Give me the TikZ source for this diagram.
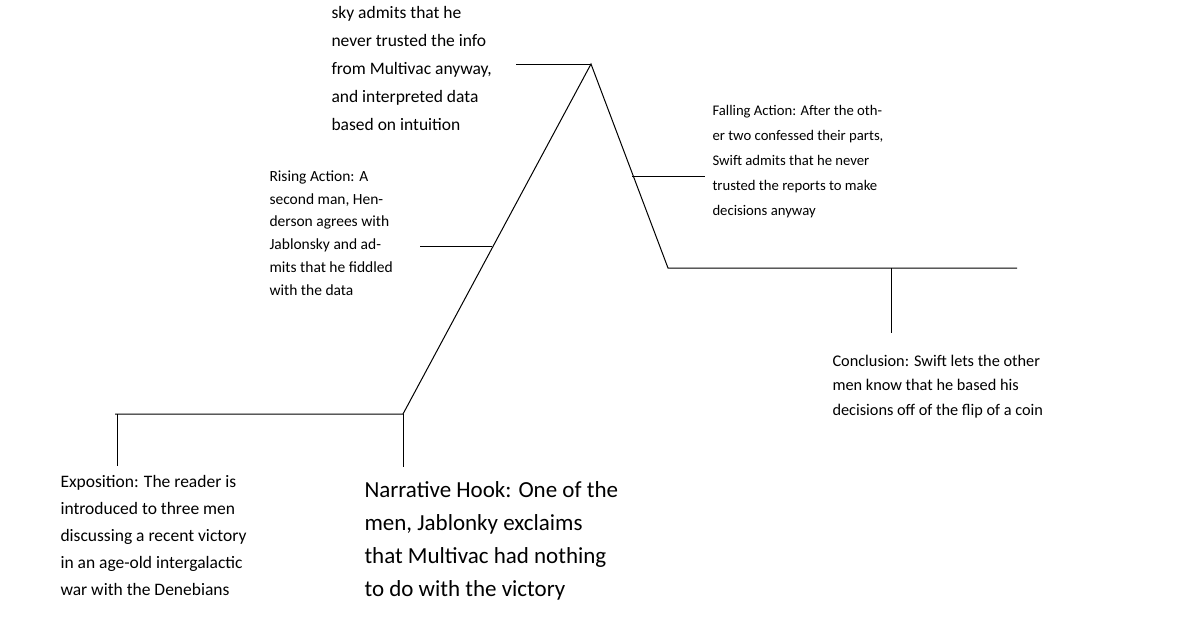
\documentclass[tikz,border=0pt]{standalone}
\usepackage{fontspec}
\setmainfont{Carlito}
\begin{document}
\begin{tikzpicture}[x=1pt,y=-1pt,line width=1pt,
  txt/.style={anchor=base west,inner sep=0pt,align=left}]
\useasboundingbox (0,0) rectangle (1200,630);
\coordinate (b0) at (115,414);
\coordinate (b1) at (403,414);
\coordinate (pk) at (591,64);
\coordinate (f1) at (668,268);
\coordinate (f2) at (1017,268);
\draw (b0) -- (b1) -- (pk) -- (f1) -- (f2);
\coordinate (e1) at (117,414); \coordinate (e2) at (117,466);
\draw (e1) -- (e2);
\coordinate (h2) at (403,467);
\draw (b1) -- (h2);
\coordinate (r1) at (420,246); \coordinate (r2) at (492,246);
\draw (r1) -- (r2);
\coordinate (c1) at (516,64);
\draw (c1) -- (pk);
\coordinate (fa1) at (632,176); \coordinate (fa2) at (705,176);
\draw (fa1) -- (fa2);
\coordinate (k1) at (891,268); \coordinate (k2) at (891,333);
\draw (k1) -- (k2);
\node[txt,font=\fontsize{17.5}{28}\selectfont] (climax) at (331,130) {sky admits that he\\never trusted the info\\from Multivac anyway,\\and interpreted data\\based on intuition};
\node[txt,font=\fontsize{15.5}{22.7}\selectfont] (rising) at (269,295) {Rising Action: A\\second man, Hen-\\derson agrees with\\Jablonsky and ad-\\mits that he fiddled\\with the data};
\node[txt,font=\fontsize{14.7}{25}\selectfont] (falling) at (712,215) {Falling Action: After the oth-\\er two confessed their parts,\\Swift admits that he never\\trusted the reports to make\\decisions anyway};
\node[txt,font=\fontsize{16.3}{24.5}\selectfont] (concl) at (832,415) {Conclusion: Swift lets the other\\men know that he based his\\decisions off of the flip of a coin};
\node[txt,font=\fontsize{17.5}{26.8}\selectfont] (expo) at (60,595) {Exposition: The reader is\\introduced to three men\\discussing a recent victory\\in an age-old intergalactic\\war with the Denebians};
\node[txt,font=\fontsize{23}{33}\selectfont] (hook) at (364,596) {Narrative Hook: One of the\\men, Jablonky exclaims\\that Multivac had nothing\\to do with the victory};
\end{tikzpicture}
\end{document}
